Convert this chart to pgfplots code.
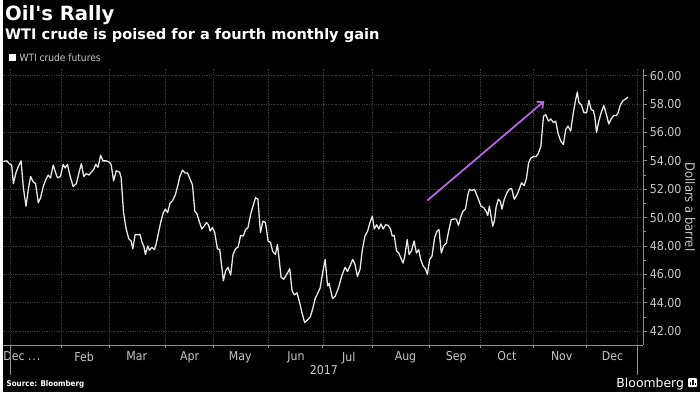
\documentclass[border=0pt]{standalone}
\usepackage{fontspec}
\setmainfont{DejaVu Sans Condensed}
\newfontfamily\titlefont{DejaVu Sans Bold}
\newfontfamily\logofont{DejaVu Sans}
\usepackage{pgfplots}
\pgfplotsset{compat=1.18}
\usetikzlibrary{arrows.meta}
\definecolor{gridc}{HTML}{3A3A3A}
\definecolor{tickc}{HTML}{C8C8C8}
\definecolor{axisc}{HTML}{8C8C8C}
\definecolor{linec}{HTML}{E8E8E8}
\definecolor{arrowc}{RGB}{178,102,226}
\newcommand{\declab}{Dec .\kern0.08em.\kern0.08em.}
\pgfplotstableread{
x y
0 53.97
3.3 54.0
6 53.8
8.3 53.7
10 52.4
12.7 53.2
15 53.6
17.7 54.0
20 52.1
22.7 50.8
25 52.0
27.3 52.9
30 52.5
32.3 52.4
35 51.05
37.3 51.4
40 52.2
42.7 52.7
45 53.0
47.3 52.8
50 53.7
52.3 53.2
54.3 52.8
57.3 52.9
60 53.75
62 53.5
64.3 53.75
66.7 53.0
70 52.2
73.3 52.4
76 53.2
78.3 53.8
80.7 52.9
83.3 53.1
86 53.0
88.3 53.2
90.7 53.4
92.7 53.75
95 53.55
97.7 54.4
100 54.0
103.3 54.0
106.7 53.9
108.3 53.7
110.7 52.6
113.3 53.3
116.7 53.2
118.3 52.8
120.7 50.35
123.3 49.2
126 48.5
128.3 48.35
130 47.8
132.3 48.8
135 48.8
137.3 48.8
139.3 48.25
141 48.0
142.7 47.4
145 48.0
146.7 47.7
149 47.9
151.7 47.75
153.3 48.1
155.7 48.9
158.3 49.75
160.7 50.35
162.7 50.6
165 50.35
167.3 51.0
170 51.2
172.7 51.6
175 52.2
177.3 52.9
180 53.35
182.3 53.15
185 53.15
187.3 52.75
190 52.3
192.3 50.45
194.3 50.3
196.7 49.75
199.3 49.2
201.7 49.4
204 49.65
206 49.5
207.7 49.05
210 49.3
212.3 48.95
215 47.8
217.3 47.75
219.3 46.6
221 45.55
223.3 46.25
225.7 46.5
228.3 45.95
230.7 47.4
233.3 47.8
236 47.95
238.3 48.75
241 48.7
243.3 49.15
245.7 49.3
248.3 50.2
250.7 50.8
253.3 51.4
255.7 51.3
258.3 48.95
260.7 49.75
263.3 49.65
266 48.35
268.3 48.25
270.7 47.6
273.3 47.4
275.3 48.1
276.7 47.3
279 45.8
281.7 45.65
284.3 45.95
287.7 46.4
290 44.85
292.3 44.55
295 44.7
297.3 44.1
300 43.3
302.7 42.6
305.7 42.8
308.3 43.0
310.7 43.55
313.3 44.3
316 44.7
318.3 45.05
320.7 46.1
323.3 47.05
325.7 45.2
327.3 45.35
330.7 44.3
333.3 44.45
336.7 45.05
340 45.9
343.3 46.5
345.7 46.2
348.3 46.6
351 47.05
353.3 46.7
355.7 45.85
358.3 46.35
360.7 47.75
363.3 48.7
366 49.05
368.3 49.65
370.7 50.1
372.7 49.2
375 49.5
377.3 49.2
379.3 49.55
381.7 49.2
384 49.5
386.7 49.45
389 49.2
390.7 48.7
392.7 48.75
395 47.65
397.3 47.5
400 47.05
401.7 46.8
403.3 47.3
405.7 48.45
407.7 47.4
410 47.65
412.7 48.35
415 47.5
417.3 47.75
419.3 47.05
421.7 46.6
424 46.4
426 46.0
428.3 47.05
430.7 47.3
433.3 48.6
435.7 49.05
437.7 49.15
440 47.5
442.3 48.0
445 48.2
447.7 49.15
450 49.85
452.7 49.9
455 49.9
457.3 49.45
459.3 50.0
461.7 50.45
464.3 50.6
466.7 51.6
468.3 52.0
470.7 51.9
473.3 52.0
476.7 51.4
480 50.8
482.7 50.7
485 50.45
486.7 50.15
488.3 50.8
491.7 49.4
493.3 49.75
495 50.7
497.3 51.3
499.3 51.15
501 50.6
503.3 51.3
506 51.75
508.3 52.0
510.7 52.05
513.3 51.3
516 51.6
518.3 52.0
520.7 52.45
523.3 52.25
525.7 52.8
527.7 53.85
530 54.2
532.3 54.3
535 54.3
537.3 54.5
540 55.0
542.7 57.15
545 57.25
547.7 56.8
550 56.95
552.7 56.7
555 56.8
557.3 55.95
560 55.4
562.7 55.15
565 56.2
567.3 56.45
570 56.1
572.7 57.4
575 58.3
576.7 58.85
578.3 58.1
580.7 57.95
583.3 57.4
586 57.4
588.3 58.25
590.7 57.6
592.7 57.55
594.3 57.1
596 56.0
598.3 56.8
600.7 57.4
603.3 57.9
606 57.25
608.3 56.6
610.7 56.95
613.3 57.2
616 57.2
617.7 57.4
620 57.95
622.7 58.25
625 58.35
627.7 58.5
}\wti
\begin{document}
\begin{tikzpicture}[x=1bp,y=1bp]
\fill[black] (0,0) rectangle (700,394);
\begin{axis}[
  at={(0bp,47bp)}, anchor=south west,
  scale only axis, width=643bp, height=278bp,
  xmin=0, xmax=643, ymin=41, ymax=60.5,
  axis x line=bottom, axis y line=right,
  axis line style={-, draw=axisc, line width=0.8bp},
  tick align=outside,
  xtick={18.5,81,134,187,238,294,347,404,455,506,561,612},
  xticklabels={{\declab},Feb,Mar,Apr,May,Jun,Jul,Aug,Sep,Oct,Nov,Dec},
  major x tick style={draw=none},
  minor xtick={7,58,106,163,211,266,321,371,428,479,533,586,637},
  minor x tick style={draw=axisc, line width=0.8bp},
  minor tick length=3bp,
  xminorgrids=true,
  minor x grid style={draw=gridc, line width=0.7bp, dash pattern=on 1.2bp off 1.2bp},
  ytick={42,44,...,60},
  minor ytick={43,45,...,59},
  minor y tick style={draw=axisc, line width=0.8bp},
  major y tick style={draw=axisc, line width=0.8bp},
  major tick length=4bp,
  ymajorgrids=true,
  major y grid style={draw=gridc, line width=0.7bp, dash pattern=on 1.2bp off 1.2bp},
  y tick label style={/pgf/number format/fixed, /pgf/number format/fixed zerofill, /pgf/number format/precision=2, /pgf/number format/assume math mode=true, font=\fontsize{12.4}{12.4}\selectfont, text=tickc, anchor=west, xshift=-1bp},
  x tick label style={font=\fontsize{12.3}{12.3}\selectfont, text=tickc, yshift=1bp},
  clip=false,
]
\addplot[linec, line width=1.3bp, line join=round, mark=none] table[x=x,y=y] {\wti};
\draw[arrowc, line width=1.8bp, -{Straight Barb[length=5bp,width=9bp]}] (axis cs:426,51.21) -- (axis cs:543.5,58.21);
\end{axis}
\draw[axisc, line width=0.8bp] (7,45) -- (7,17);
\draw[axisc, line width=0.8bp] (637,45) -- (637,17);
\node[anchor=center, text=tickc, font=\fontsize{12.3}{12.3}\selectfont] at (322,22) {2017};
\node[anchor=center, rotate=-90, text=tickc, font=\fontsize{13}{13}\selectfont] at (690,186) {Dollars a barrel};
\node[anchor=base west, inner sep=0, text=white, font=\titlefont\fontsize{19.8}{19.8}\selectfont] at (1.5,373.3) {Oil's Rally};
\node[anchor=base west, inner sep=0, text=white, font=\titlefont\fontsize{14.7}{14.7}\selectfont] at (1.5,354) {WTI crude is poised for a fourth monthly gain};
\fill[white] (6,333) rectangle (13,340);
\node[anchor=base west, inner sep=0, text=tickc, font=\fontsize{10.2}{10.2}\selectfont] at (16,332.5) {WTI crude futures};
\node[anchor=base west, inner sep=0, text=white, font=\bfseries\fontsize{8}{8}\selectfont] at (3,6) {Source: Bloomberg};
\node[anchor=base east, inner sep=0, text=white, font=\logofont\fontsize{12.5}{12.5}\selectfont] at (684,5) {Bloomberg};
\fill[white, rounded corners=1bp] (688,5) rectangle (697,14);
\fill[black] (690.2,7) rectangle (691.4,10);
\fill[black] (692.4,7) rectangle (693.6,12);
\fill[black] (694.6,7) rectangle (695.8,9);
\end{tikzpicture}
\end{document}
